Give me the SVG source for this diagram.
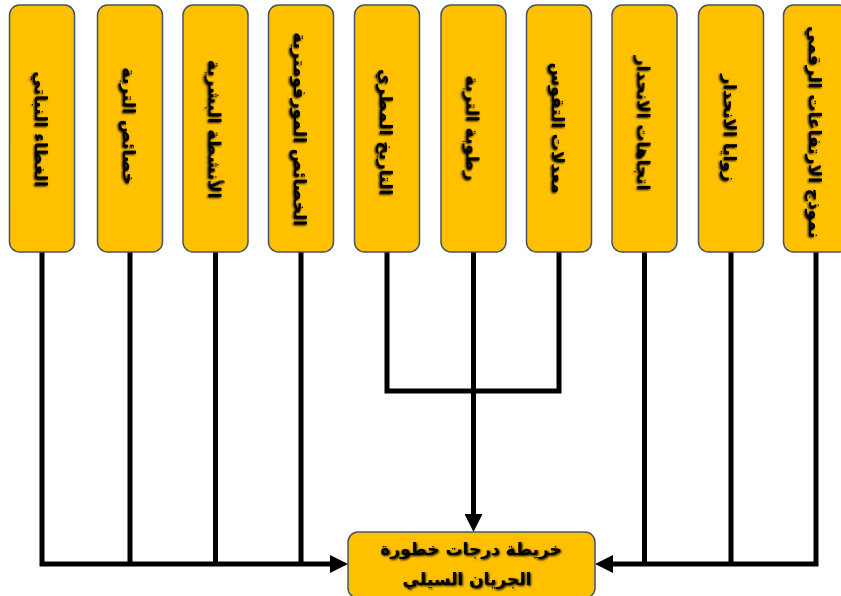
<svg xmlns="http://www.w3.org/2000/svg" width="841" height="596" viewBox="0 0 841 596">
<style>
.box{fill:#FFC000;stroke:#44546A;stroke-width:1.5}
.lbl{font-family:"DejaVu Sans",sans-serif;font-weight:bold;font-size:17px;fill:#000;text-anchor:middle;dominant-baseline:central;filter:url(#sh)}
.main{font-size:17px}
.wire{fill:none;stroke:#000;stroke-width:5;stroke-linejoin:miter}
</style>
<defs>
<marker id="arr" markerUnits="userSpaceOnUse" markerWidth="18" markerHeight="18" refX="8" refY="9" orient="auto">
<path d="M0,0 L18,9 L0,18 Z" fill="#000"/>
</marker>
<filter id="sh" x="-20%" y="-30%" width="140%" height="160%">
<feGaussianBlur in="SourceAlpha" stdDeviation="1.1"/>
<feOffset dx="1" dy="1" result="b"/>
<feMerge><feMergeNode in="b"/><feMergeNode in="SourceGraphic"/></feMerge>
</filter>
</defs>
<g id="connectors">
<path class="wire" d="M42,252 V564 H338" marker-end="url(#arr)"/>
<path class="wire" d="M130,252 V564"/>
<path class="wire" d="M215.5,252 V564"/>
<path class="wire" d="M301,252 V564"/>
<path class="wire" d="M387,252 V391 H559 V252"/>
<path class="wire" d="M473.5,252 V522" marker-end="url(#arr)"/>
<path class="wire" d="M816,252 V564 H605" marker-end="url(#arr)"/>
<path class="wire" d="M644.5,252 V564"/>
<path class="wire" d="M731,252 V564"/>
</g>
<g id="n1"><rect class="box" x="9.5" y="5" width="65" height="247" rx="10"/><text class="lbl" transform="translate(41,129) rotate(90)">الغطاء النباتي</text></g>
<g id="n2"><rect class="box" x="97.5" y="5" width="65" height="247" rx="10"/><text class="lbl" transform="translate(129,126) rotate(90)">خصائص التربة</text></g>
<g id="n3"><rect class="box" x="183" y="5" width="65" height="247" rx="10"/><text class="lbl" transform="translate(214.5,129) rotate(90)">الأنشطة البشرية</text></g>
<g id="n4"><rect class="box" x="268.5" y="5" width="65" height="247" rx="10"/><text class="lbl" transform="translate(300,129) rotate(90)">الخصائص المورفومترية</text></g>
<g id="n5"><rect class="box" x="354.5" y="5" width="65" height="247" rx="10"/><text class="lbl" transform="translate(386,132) rotate(90)">التاريخ المطري</text></g>
<g id="n6"><rect class="box" x="441" y="5" width="65" height="247" rx="10"/><text class="lbl" transform="translate(472.5,128) rotate(90)">رطوبة التربة</text></g>
<g id="n7"><rect class="box" x="526.5" y="5" width="65" height="247" rx="10"/><text class="lbl" transform="translate(558,128) rotate(90)">معدلات التقوس</text></g>
<g id="n8"><rect class="box" x="612" y="5" width="65" height="247" rx="10"/><text class="lbl" transform="translate(643.5,123) rotate(90)">اتجاهات الانحدار</text></g>
<g id="n9"><rect class="box" x="698.5" y="5" width="65" height="247" rx="10"/><text class="lbl" transform="translate(730,128) rotate(90)">زوايا الانحدار</text></g>
<g id="n10"><rect class="box" x="783.5" y="5" width="65" height="247" rx="10"/><text class="lbl" transform="translate(815,132) rotate(90)">نموذج الارتفاعات الرقمي</text></g>
<g id="n11"><rect class="box" x="348" y="532" width="247" height="66" rx="10"/>
<text class="lbl main" x="471" y="549">خريطة درجات خطورة</text>
<text class="lbl main" x="467" y="579">الجريان السيلي</text></g>
</svg>
